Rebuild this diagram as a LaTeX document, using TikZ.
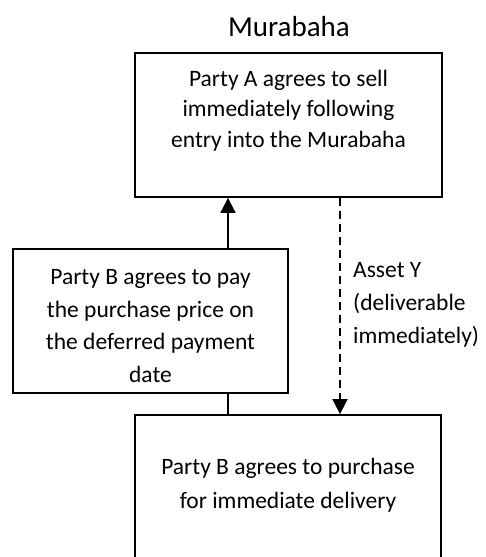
\documentclass[tikz,border=0pt]{standalone}
\usepackage{fontspec}
\setmainfont{Carlito}
\usetikzlibrary{arrows.meta,positioning}

\tikzset{
  box/.style={draw, line width=1.8pt, rectangle, inner sep=0pt},
  txt/.style={align=center, inner sep=0pt},
  flow/.style={line width=1.8pt, -{Triangle[length=15pt,width=15pt]}},
}

\begin{document}
\begin{tikzpicture}[x=1pt,y=-1pt]
      % page frame
      \useasboundingbox (0,0) rectangle (486,557);
      \clip (0,0) rectangle (486,557);

      % title
      \node (title) at (289,27) [txt, font=\fontsize{29}{34}\selectfont] {Murabaha};

      % box 1: PARTY A SELLS
      \node (sell) at (288.5,125) [box, minimum width=307pt, minimum height=144pt] {};
      \node (selltext) at (288.5,110.5) [txt, font=\fontsize{23.5}{30.5}\selectfont]
        {Party A agrees to sell\\immediately following\\entry into the Murabaha};

      % box 2: PARTY B PAYS (deferred)
      \node (pay) at (150.5,321) [box, minimum width=275pt, minimum height=144pt] {};
      \node (paytext) at (150.5,326) [txt, font=\fontsize{23.5}{32.7}\selectfont]
        {Party B agrees to pay\\the purchase price on\\the deferred payment\\date};

      % box 3: PARTY B BUYS (runs off the page)
      \node (buy) at (288,507.5) [box, minimum width=306pt, minimum height=185pt] {};
      \node (buytext) at (288,485) [txt, font=\fontsize{23.5}{34}\selectfont]
        {Party B agrees to purchase\\for immediate delivery};

      % asset label next to the dashed arrow
      \node (asset) at (353,305) [anchor=west, align=left, inner sep=0pt, font=\fontsize{23.5}{33}\selectfont]
        {Asset Y\\(deliverable\\immediately)};

      % price goes up to party A
      \draw[flow] ([xshift=77.5pt]pay.north) -- ([xshift=77.5pt]pay.north |- sell.south);
      \draw[line width=1.8pt] ([xshift=77.5pt]pay.south) -- ([xshift=77.5pt]pay.south |- buy.north);

      % asset goes down to party B
      \draw[flow, dash pattern=on 8pt off 5pt] ([xshift=51.5pt]sell.south) -- ([xshift=51.5pt]sell.south |- buy.north);
    \end{tikzpicture}
\end{document}
